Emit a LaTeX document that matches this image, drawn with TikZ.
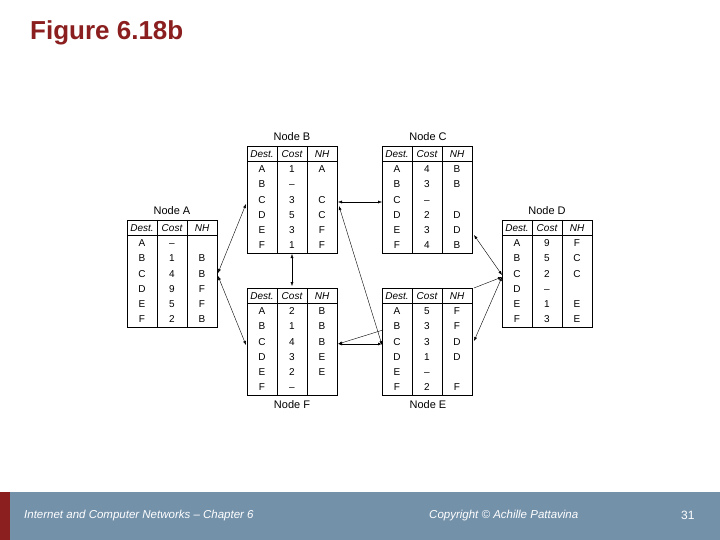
\documentclass[tikz,border=0pt]{standalone}
\usepackage{fontspec}
\setmainfont{Liberation Sans}
\usetikzlibrary{arrows.meta}
\definecolor{ttl}{HTML}{8B1E1E}
\definecolor{bar}{HTML}{7491AA}
\definecolor{barred}{HTML}{8B1E1E}
\tikzset{txt/.style={font=\fontsize{10}{10}\selectfont,inner sep=0,text height=1.6ex,text depth=0.2ex},
 ttxt/.style={font=\fontsize{11}{11}\selectfont,inner sep=0},
 link/.style={thin,{Latex[length=4pt,width=3pt]}-{Latex[length=4pt,width=3pt]}},
 foot/.style={font=\fontsize{11.5}{12}\selectfont\itshape,text=white,inner sep=0,anchor=west}}
\newcommand\tbl[4]{%
 \node[draw,line width=0.6pt,minimum width=90,minimum height=107,anchor=north west,inner sep=0] (#1) at (#2,#3) {};
 \draw[line width=0.5pt] (#2,#3+15) -- ++(90,0);
 \draw[line width=0.5pt] (#2+30,#3) -- ++(0,107);
 \draw[line width=0.5pt] (#2+60,#3) -- ++(0,107);
 \node[txt] at (#2+15,#3+7.5) {\itshape Dest.};
 \node[txt] at (#2+45,#3+7.5) {\itshape Cost};
 \node[txt] at (#2+75,#3+7.5) {\itshape NH};
 \foreach \d/\c/\n [count=\i] in {#4} {
  \node[txt] at (#2+15,#3+23+\i*15.2-15.2) {\d};
  \node[txt] at (#2+45,#3+23+\i*15.2-15.2) {\c};
  \node[txt] at (#2+75,#3+23+\i*15.2-15.2) {\n};
 }}
\begin{document}
\begin{tikzpicture}[x=1pt,y=-1pt]
\useasboundingbox (0,0) rectangle (720,540);
\fill[white] (0,0) rectangle (720,540);
\node[font=\fontsize{26}{28}\selectfont\bfseries,text=ttl,anchor=west,inner sep=0] (title) at (30,33) {Figure 6.18b};
\tbl{A}{127}{220}{A/–/{},B/1/B,C/4/B,D/9/F,E/5/F,F/2/B}
\tbl{B}{247}{146}{A/1/A,B/–/{},C/3/C,D/5/C,E/3/F,F/1/F}
\tbl{C}{382}{146}{A/4/B,B/3/B,C/–/{},D/2/D,E/3/D,F/4/B}
\tbl{D}{502}{220}{A/9/F,B/5/C,C/2/C,D/–/{},E/1/E,F/3/E}
\tbl{F}{247}{288}{A/2/B,B/1/B,C/4/B,D/3/E,E/2/E,F/–/{}}
\tbl{E}{382}{288}{A/5/F,B/3/F,C/3/D,D/1/D,E/–/{},F/2/F}
\node[ttxt] (tA) at (172,211) {Node A};
\node[ttxt] (tB) at (292,137) {Node B};
\node[ttxt] (tC) at (428,137) {Node C};
\node[ttxt] (tD) at (547,211) {Node D};
\node[ttxt] (tF) at (292,405) {Node F};
\node[ttxt] (tE) at (428,405) {Node E};
\coordinate (a1) at (218,273); \coordinate (b1) at (246,204);
\coordinate (a2) at (218,276); \coordinate (f1) at (246,345);
\coordinate (b2) at (338,202); \coordinate (c1) at (382,202);
\coordinate (b3) at (292,254); \coordinate (f2) at (292,286);
\coordinate (b4) at (339,206); \coordinate (e1) at (382,345);
\coordinate (c2) at (474,235); \coordinate (d1) at (502,275);
\coordinate (e2) at (474,288); \coordinate (d2) at (502,277);
\coordinate (e3) at (474,341);
\coordinate (f3) at (338,344); \coordinate (e4) at (382,344);
\coordinate (e5) at (383,330);
\draw[link] (a1) -- (b1);
\draw[link] (a2) -- (f1);
\draw[link] (b2) -- (c1);
\draw[link] (b3) -- (f2);
\draw[link] (b4) -- (e1);
\draw[link] (c2) -- (d1);
\draw[thin,-{Latex[length=4pt,width=3pt]}] (e2) -- (d2);
\draw[link] (d2) -- (e3);
\draw[link,line width=0.9pt] (f3) -- (e4);
\draw[thin,-{Latex[length=4pt,width=3pt]}] (e5) -- (f3);
\fill[bar] (0,492) rectangle (720,540);
\fill[barred] (0,492) rectangle (10,540);
\node[foot] (f1t) at (24,516) {Internet and Computer Networks – Chapter 6};
\node[foot] (f2t) at (429,516) {Copyright © Achille Pattavina};
\node[foot,font=\fontsize{12}{12}\selectfont] (f3t) at (681,515) {31};
\end{tikzpicture}
\end{document}
